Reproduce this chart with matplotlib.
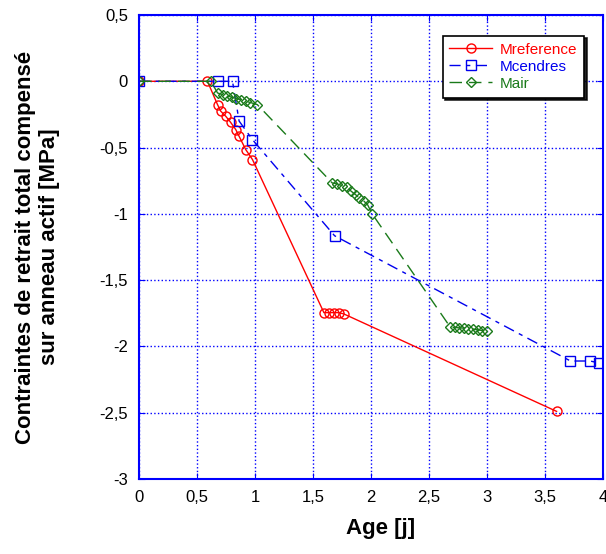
import matplotlib.pyplot as plt
from matplotlib.ticker import FuncFormatter

plt.rcParams['font.family'] = ['Liberation Sans', 'DejaVu Sans']

# Mreference
ref_x = [0, 0.59, 0.677, 0.705, 0.748, 0.79, 0.834, 0.863, 0.92, 0.978,
         1.594, 1.637, 1.68, 1.723, 1.766, 3.6]
ref_y = [0, 0, -0.176, -0.226, -0.264, -0.31, -0.364, -0.415, -0.515, -0.59,
         -1.745, -1.745, -1.745, -1.745, -1.755, -2.49]

# Mcendres
cen_x = [0, 0.68, 0.806, 0.863, 0.978, 1.686, 3.72, 3.89, 3.966]
cen_y = [0, 0, 0, -0.30, -0.44, -1.165, -2.11, -2.11, -2.125]

# Mair
air_x = [0, 0.62, 0.677, 0.72, 0.76, 0.80, 0.84, 0.88, 0.92, 0.96, 1.02,
         1.666, 1.709, 1.752, 1.795, 1.83, 1.867, 1.90, 1.94, 1.97, 2.01,
         2.684, 2.72, 2.76, 2.80, 2.84, 2.88, 2.92, 2.96, 3.0]
air_y = [0, 0, -0.088, -0.10, -0.11, -0.12, -0.13, -0.14, -0.15, -0.16, -0.176,
         -0.767, -0.774, -0.787, -0.80, -0.83, -0.855, -0.88, -0.905, -0.93, -1.0,
         -1.855, -1.857, -1.86, -1.862, -1.865, -1.87, -1.875, -1.88, -1.885]

fig = plt.figure(figsize=(6.06, 5.54), dpi=100)
ax = fig.add_axes([0.2294, 0.1354, 0.7656, 0.8375])

ax.plot(ref_x, ref_y, color='#ff0000', lw=1, marker='o', ms=6.5,
        mfc='none', mec='#ff0000', label='Mreference')
ax.plot(cen_x, cen_y, color='#0000ee', lw=1, marker='s', ms=6.5,
        mfc='none', mec='#0000ee', dashes=[8, 4, 3, 4], label='Mcendres')
ax.plot(air_x, air_y, color='#1a7a1a', lw=1, marker='D', ms=5,
        mfc='none', mec='#1a7a1a', dashes=[9, 5], label='Mair')

ax.set_xlim(0, 4)
ax.set_ylim(-3, 0.5)
ax.set_xticks([0, 0.5, 1, 1.5, 2, 2.5, 3, 3.5, 4])
ax.set_yticks([-3, -2.5, -2, -1.5, -1, -0.5, 0, 0.5])
fmt = FuncFormatter(lambda v, p: ('%g' % v).replace('.', ','))
ax.xaxis.set_major_formatter(fmt)
ax.yaxis.set_major_formatter(fmt)

ax.grid(True, color='#0000ff', ls=':', lw=1)
for s in ax.spines.values():
    s.set_color('#0000ff')
    s.set_linewidth(1.5)
ax.tick_params(direction='in', length=4, color='#0000ff', labelsize=12,
               top=True, right=True, pad=8)

ax.set_xlabel('Age [j]', fontsize=16, fontweight='bold')
ax.xaxis.set_label_coords(0.52, -0.085)
ax.set_ylabel('Contraintes de retrait total compensé\nsur anneau actif [MPa]',
              fontsize=16, fontweight='bold')
ax.yaxis.set_label_coords(-0.17, 0.5)

leg = ax.legend(loc='upper right', bbox_to_anchor=(0.976, 0.972), fontsize=11,
                frameon=True, fancybox=False, shadow={'color': 'black', 'alpha': 0.85},
                edgecolor='black', framealpha=1, handlelength=2.8,
                borderpad=0.45, labelspacing=0.2, handletextpad=0.5)
leg.get_frame().set_linewidth(1.2)
for t, c in zip(leg.get_texts(), ['#ff0000', '#0000ee', '#1a7a1a']):
    t.set_color(c)

fig.savefig('out.png', dpi=100)
